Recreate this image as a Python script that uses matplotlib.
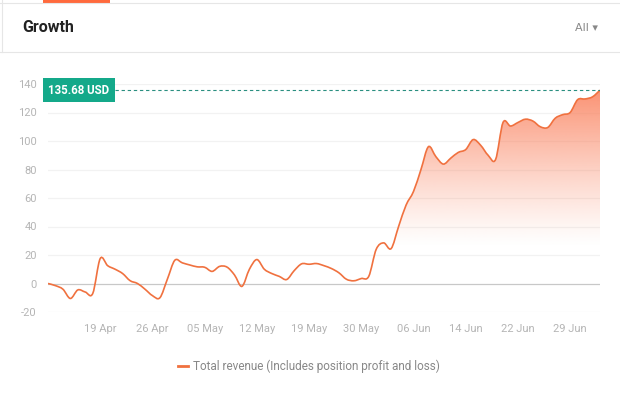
import numpy as np
import matplotlib
matplotlib.use("Agg")
import matplotlib.pyplot as plt
from matplotlib.path import Path
from matplotlib.patches import PathPatch, Rectangle
from matplotlib.lines import Line2D

plt.rcParams['font.family'] = ['Roboto', 'DejaVu Sans']

# data: total revenue per trading day (USD)
revenue = [0, -1.5, -4, -10.5, -4.5, -6, -7, 17.5, 12.5, 10,
           7, 2, 0, -4, -8.5, -10, 3, 16.3, 14.5, 13,
           11.7, 11.4, 8.5, 12, 11.5, 6, -2, 10, 16.8, 10,
           7, 5, 2.8, 9, 13.8, 13.5, 14, 12.5, 10.5, 7.5,
           3, 1.9, 3.5, 5, 24, 28.5, 24.5, 40, 55, 64.6,
           80, 96, 89, 83.8, 88, 92, 94, 101, 97, 90,
           87, 113, 110.5, 113, 115.3, 114, 110, 109.5, 116, 118.5,
           120, 129, 129.5, 131, 135.68]
tick_pos = [7, 14, 21, 28, 35, 42, 49, 56, 63, 70]
tick_labels = ["19 Apr", "26 Apr", "05 May", "12 May", "19 May",
               "30 May", "06 Jun", "14 Jun", "22 Jun", "29 Jun"]
y_ticks = [-20, 0, 20, 40, 60, 80, 100, 120, 140]
last_label = "135.68 USD"
legend_label = "Total revenue (Includes position profit and loss)"

line_col = "#f0713f"
green = "#14a98a"


def smooth_path(x, y):
    # catmull-rom -> cubic bezier, drawn by matplotlib's Path
    p = np.column_stack([x, y]).astype(float)
    n = len(p)
    verts = [p[0]]
    codes = [Path.MOVETO]
    for i in range(n - 1):
        p0 = p[i - 1] if i > 0 else p[i]
        p3 = p[i + 2] if i + 2 < n else p[i + 1]
        c1 = p[i] + (p[i + 1] - p0) / 6.0
        c2 = p[i + 1] - (p3 - p[i]) / 6.0
        verts += [c1, c2, p[i + 1]]
        codes += [Path.CURVE4] * 3
    return verts, codes


fig = plt.figure(figsize=(6.2, 3.95), dpi=100)

# card decorations
fig.add_artist(Rectangle((43 / 620, 1 - 3 / 395), 67 / 620, 3 / 395,
                         transform=fig.transFigure, color="#ff6a3d", lw=0))
fig.add_artist(Line2D([0, 1], [1 - 3 / 395] * 2, transform=fig.transFigure, color="#e6e6e6", lw=0.8))
fig.add_artist(Line2D([0, 1], [1 - 52 / 395] * 2, transform=fig.transFigure, color="#e6e6e6", lw=0.8))
fig.add_artist(Line2D([2 / 620] * 2, [1 - 52 / 395, 1], transform=fig.transFigure, color="#e6e6e6", lw=0.8))
fig.text(22 / 620, 1 - 27 / 395, "Growth", fontsize=11.5, fontweight="bold", color="#222222", va="center")
fig.text(598 / 620, 1 - 28 / 395, "All \u25BE", fontsize=8, color="#888888", va="center", ha="right",
         family=['DejaVu Sans'])

ax = fig.add_axes([48 / 620, 1 - 312 / 395, 552 / 620, 228 / 395])
x = np.arange(len(revenue))
ax.set_xlim(0, len(revenue) - 1)
ax.set_ylim(-20, 140)

verts, codes = smooth_path(x, revenue)
line_path = Path(verts, codes)
ax.add_patch(PathPatch(line_path, fill=False, edgecolor=line_col, lw=1.2, zorder=3))

# gradient area under curve
fill_verts = verts + [(x[-1], 0), (0, 0), verts[0]]
fill_codes = codes + [Path.LINETO, Path.LINETO, Path.CLOSEPOLY]
area = PathPatch(Path(fill_verts, fill_codes), facecolor="none", edgecolor="none")
ax.add_patch(area)
ramp = np.linspace(0, 1, 256)
alpha = np.clip((ramp - 0.18) / 0.82, 0, 1) ** 1.2 * 0.9
grad = np.zeros((256, 1, 4))
grad[:, 0, 0] = 250 / 255
grad[:, 0, 1] = 128 / 255
grad[:, 0, 2] = 92 / 255
grad[:, 0, 3] = alpha
im = ax.imshow(grad, extent=[0, len(revenue) - 1, 0, 140], origin="lower",
               aspect="auto", zorder=2)
im.set_clip_path(area)

# grid
for v in y_ticks:
    ax.axhline(v, color="#c8c8c8" if v == 0 else "#f2f2f2", lw=0.9, zorder=1)
for s in ax.spines.values():
    s.set_visible(False)

ax.set_yticks(y_ticks)
ax.set_yticklabels([str(v) for v in y_ticks])
ax.set_xticks(tick_pos)
ax.set_xticklabels(tick_labels)
ax.tick_params(length=0, colors="#b5b5b5", labelsize=8)
ax.tick_params(axis="y", pad=8)
ax.tick_params(axis="x", pad=9)

# last value marker
ax.axhline(revenue[-1], xmin=67 / 552, color="#2a8f80", lw=0.8, ls=(0, (3, 2.5)), zorder=3)
ax.text(0.05, revenue[-1], last_label, fontsize=8.3, fontweight="bold", color="white",
        va="center", ha="left", zorder=5,
        bbox=dict(boxstyle="square,pad=0.5", fc=green, ec="none"))

# legend
fig.add_artist(Line2D([178 / 620, 188 / 620], [1 - 366 / 395] * 2, transform=fig.transFigure,
                      color=line_col, lw=2))
fig.text(193 / 620, 1 - 366 / 395, legend_label, fontsize=8.5, color="#888888", va="center")

fig.savefig("out.png", dpi=100)
